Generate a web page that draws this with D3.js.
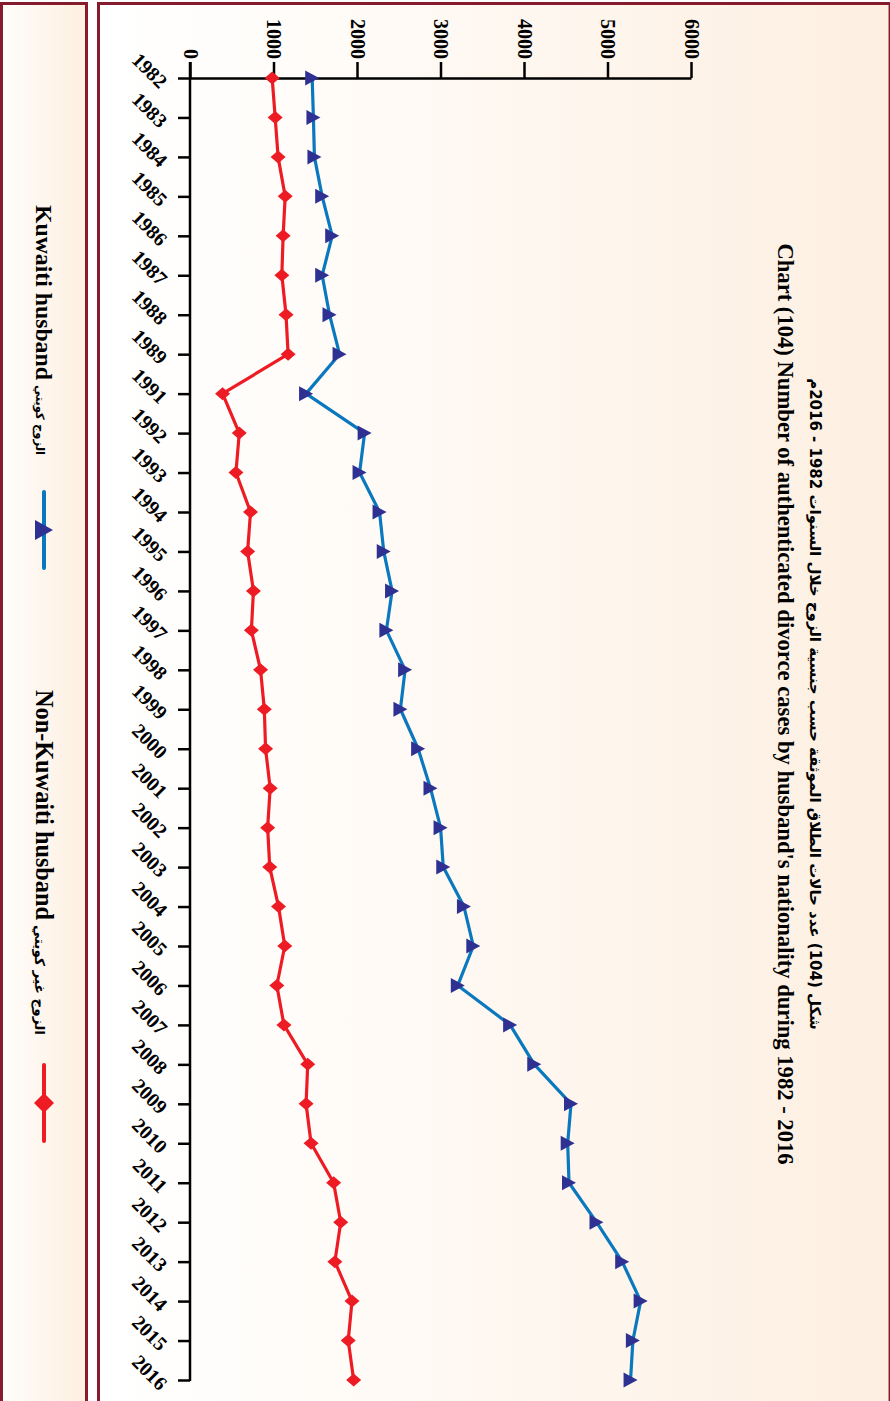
<!DOCTYPE html>
<html><head><meta charset="utf-8">
<script src="https://cdn.jsdelivr.net/npm/d3@7"></script>
<style>html,body{margin:0;padding:0;background:#fff;} svg{display:block}</style>
</head><body>
<svg id="chart" width="890" height="1401"></svg>
<script>
const years = ["1982","1983","1984","1985","1986","1987","1988","1989","1991","1992","1993","1994","1995","1996","1997","1998","1999","2000","2001","2002","2003","2004","2005","2006","2007","2008","2009","2010","2011","2012","2013","2014","2015","2016"];
const kuwaiti = [1463,1478,1490,1583,1703,1583,1671,1791,1390,2091,2031,2270,2320,2420,2352,2576,2520,2732,2880,3001,3033,3281,3393,3207,3834,4123,4563,4523,4539,4868,5176,5397,5304,5276];
const nonKuwaiti = [984,1020,1055,1140,1115,1100,1150,1175,390,590,550,725,690,760,735,845,890,905,960,930,955,1060,1135,1040,1125,1410,1390,1450,1720,1805,1735,1940,1895,1960];
const valueTicks = [0,1000,2000,3000,4000,5000,6000];
const titleEn = "Chart (104) Number of authenticated divorce cases by husband's nationality during 1982 - 2016";
const titleAr = "شكل (104) عدد حالات الطلاق الموثقة حسب جنسية الزوج خلال السنوات 1982 - 2016م";
const seriesEn = ["Kuwaiti husband", "Non-Kuwaiti husband"];
const seriesAr = ["الزوج كويتي", "الزوج غير كويتي"];

const BORDER = "#861B2E", RED = "#ED1C24", BLUE = "#0A78BE", NAVY = "#2E3192";
const serif = "'Liberation Serif','Times New Roman',serif";
const svg = d3.select("#chart");
const defs = svg.append("defs");
const g1 = defs.append("linearGradient").attr("id","gMain").attr("x1","0").attr("x2","1").attr("y1","0").attr("y2","0");
g1.append("stop").attr("offset","0").attr("stop-color","#FFFFFF");
g1.append("stop").attr("offset","0.25").attr("stop-color","#FFFCF9");
g1.append("stop").attr("offset","1").attr("stop-color","#FDEFE1");
const g2 = defs.append("linearGradient").attr("id","gLeg").attr("x1","0").attr("x2","1").attr("y1","0").attr("y2","0");
g2.append("stop").attr("offset","0").attr("stop-color","#FFFEFC");
g2.append("stop").attr("offset","1").attr("stop-color","#FDEEDF");

// panels
svg.append("rect").attr("x",0).attr("y",2).attr("width",88).attr("height",1399).attr("fill","url(#gLeg)");
svg.append("rect").attr("x",97).attr("y",2).attr("width",793).attr("height",1399).attr("fill","url(#gMain)");
const bl = (x1,y1,x2,y2,w)=>svg.append("line").attr("x1",x1).attr("y1",y1).attr("x2",x2).attr("y2",y2).attr("stroke",BORDER).attr("stroke-width",w);
bl(0,3.5,88,3.5,3); bl(1.5,2,1.5,1401,3); bl(86.5,2,86.5,1401,3);
bl(97,3.5,890,3.5,3); bl(98.5,2,98.5,1401,3); bl(889.3,2,889.3,1401,1.5);

// scales
const x = d3.scaleLinear().domain([0,6000]).range([190,691]);
const y = d3.scalePoint().domain(years).range([78,1380]);

// value axis (top)
const ax = svg.append("g").attr("transform","translate(0,78)")
  .call(d3.axisTop(x).tickValues(valueTicks).tickSize(16).tickSizeOuter(0).tickFormat(d3.format("d")));
ax.select(".domain").attr("stroke","#000").attr("stroke-width",2.5);
ax.selectAll(".tick line").attr("stroke","#000").attr("stroke-width",2.5);
ax.selectAll(".tick text").attr("y",null).attr("dy",null)
  .attr("transform","translate(0,-19) rotate(90)")
  .attr("text-anchor","end").attr("dominant-baseline","central")
  .attr("font-family",serif).attr("font-weight","bold").attr("font-size",20).attr("fill","#000");

// year axis (left)
const ay = svg.append("g").attr("transform","translate(190,0)")
  .call(d3.axisLeft(y).tickSize(12).tickSizeOuter(0));
ay.select(".domain").attr("stroke","#000").attr("stroke-width",2.5).attr("d","M0,62V1381");
ay.selectAll(".tick line").attr("stroke","#000").attr("stroke-width",2.5);
ay.selectAll(".tick text").attr("x",null).attr("dy",null)
  .attr("transform","translate(-31,11) rotate(45)")
  .attr("text-anchor","end")
  .attr("font-family",serif).attr("font-weight","bold").attr("font-size",20).attr("fill","#000");

// lines
const line = d3.line().x(d=>x(d.v)).y(d=>y(d.yr));
const redData = years.map((yr,i)=>({yr, v:nonKuwaiti[i]}));
const blueData = years.map((yr,i)=>({yr, v:kuwaiti[i]}));
svg.append("path").datum(redData).attr("d",line).attr("fill","none").attr("stroke",RED).attr("stroke-width",3.2).attr("stroke-linejoin","round");
svg.append("path").datum(blueData).attr("d",line).attr("fill","none").attr("stroke",BLUE).attr("stroke-width",3.2).attr("stroke-linejoin","round");

const diamond = (w,h)=>`M${-w/2},0L0,${-h/2}L${w/2},0L0,${h/2}Z`;
const tri = (w,h)=>`M${-w/2},${-h/2}L${w/2},0L${-w/2},${h/2}Z`;
svg.append("g").selectAll("path").data(redData).join("path")
  .attr("transform",d=>`translate(${x(d.v)},${y(d.yr)})`).attr("d",diamond(15,13)).attr("fill",RED);
svg.append("g").selectAll("path").data(blueData).join("path")
  .attr("transform",d=>`translate(${x(d.v)},${y(d.yr)})`).attr("d",tri(14,15)).attr("fill",NAVY);

// fit helper
function fit(t, target){
  const len = t.node().getComputedTextLength();
  const fs = parseFloat(t.attr("font-size"));
  t.attr("font-size", (fs*target/len).toFixed(2));
}

// titles
const tAr = svg.append("text").attr("transform","translate(815,704) rotate(90)")
  .attr("text-anchor","middle").attr("dominant-baseline","central").attr("direction","rtl")
  .attr("font-family","'DejaVu Sans',sans-serif").attr("font-weight","bold").attr("font-size",14).attr("fill","#000").text(titleAr);
fit(tAr, 652);
const tEn = svg.append("text").attr("transform","translate(785,704) rotate(90)")
  .attr("text-anchor","middle").attr("dominant-baseline","central")
  .attr("font-family",serif).attr("font-weight","bold").attr("font-size",20).attr("fill","#000").text(titleEn);
fit(tEn, 922);

// legend
const leg = [
  {en:seriesEn[0], ar:seriesAr[0], enStart:205, enLen:175, arMid:420, arLen:70, symMid:530, color:BLUE, marker:tri(18,20)},
  {en:seriesEn[1], ar:seriesAr[1], enStart:690, enLen:230, arMid:980, arLen:110, symMid:1103, color:RED, marker:diamond(20,20)}
];
leg.forEach((L,i)=>{
  const te = svg.append("text").attr("transform",`translate(44,${L.enStart}) rotate(90)`)
    .attr("text-anchor","start").attr("dominant-baseline","central")
    .attr("font-family",serif).attr("font-weight","bold").attr("font-size",20).attr("fill","#000").text(L.en);
  fit(te, L.enLen);
  const ta = svg.append("text").attr("transform",`translate(40,${L.arMid}) rotate(90)`)
    .attr("text-anchor","middle").attr("dominant-baseline","central").attr("direction","rtl")
    .attr("font-family","'DejaVu Sans',sans-serif").attr("font-weight","bold").attr("font-size",12).attr("fill","#000").text(L.ar);
  fit(ta, L.arLen);
  svg.append("line").attr("x1",44).attr("x2",44).attr("y1",L.symMid-38).attr("y2",L.symMid+38)
    .attr("stroke",L.color).attr("stroke-width",4).attr("stroke-linecap","round");
  svg.append("path").attr("transform",`translate(44,${L.symMid})`).attr("d",L.marker).attr("fill", i===0?NAVY:RED);
});
</script>
</body></html>
